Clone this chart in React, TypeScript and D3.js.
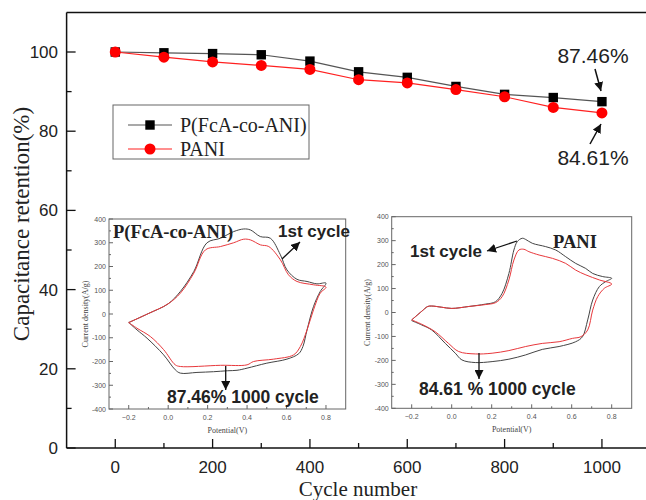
import React from "react";
import * as d3 from "d3";

const cycles = [0, 100, 200, 300, 400, 500, 600, 700, 800, 900, 1000];
const retentionCopolymer = [100, 99.8, 99.6, 99.3, 97.7, 95.0, 93.6, 91.3, 89.3, 88.5, 87.46];
const retentionPANI = [100, 98.7, 97.5, 96.6, 95.6, 93.0, 92.2, 90.5, 88.7, 86.0, 84.61];
const xMajorTicks = [0, 200, 400, 600, 800, 1000];
const xMinorTicks = [100, 300, 500, 700, 900];
const yMajorTicks = [0, 20, 40, 60, 80, 100];
const yMinorTicks = [10, 30, 50, 70, 90];

// CV insets: [potential V, current density A/g]
const cvCopoFirst: [number, number][] = [
  [-0.2, -36], [-0.1, 2], [0.0, 43], [0.062, 95], [0.13, 179], [0.197, 300], [0.265, 319], [0.332, 347],
  [0.383, 358], [0.417, 354], [0.467, 326], [0.518, 319], [0.569, 249], [0.602, 186], [0.653, 146],
  [0.704, 137], [0.754, 127], [0.8, 130], [0.771, 95], [0.737, 32], [0.704, -67], [0.683, -137],
  [0.662, -167], [0.602, -190], [0.5, -207], [0.4, -228], [0.349, -237], [0.3, -239], [0.23, -243],
  [0.146, -246], [0.062, -249], [0.036, -235], [-0.023, -172], [-0.107, -102], [-0.158, -67], [-0.2, -36],
];
const cvCopoLast: [number, number][] = [
  [-0.2, -36], [-0.1, 2], [0.0, 43], [0.062, 88], [0.13, 172], [0.189, 270], [0.265, 284], [0.332, 300],
  [0.383, 315], [0.417, 312], [0.468, 291], [0.51, 284], [0.569, 228], [0.61, 165], [0.653, 137],
  [0.737, 123], [0.8, 113], [0.771, 88], [0.737, 18], [0.704, -67], [0.67, -137], [0.636, -172],
  [0.535, -190], [0.433, -200], [0.4, -214], [0.265, -216], [0.062, -221], [0.036, -214],
  [-0.023, -150], [-0.09, -95], [-0.158, -60], [-0.2, -36],
];
const cvPaniFirst: [number, number][] = [
  [-0.2, -31], [-0.15, 5], [-0.12, 25], [-0.1, 27], [-0.05, 22], [0.0, 17], [0.085, 25], [0.168, 35],
  [0.219, 45], [0.252, 80], [0.286, 163], [0.311, 261], [0.328, 296], [0.353, 310], [0.37, 305],
  [0.403, 289], [0.47, 275], [0.52, 261], [0.57, 233], [0.62, 205], [0.67, 184], [0.705, 163],
  [0.755, 150], [0.8, 143], [0.77, 129], [0.738, 108], [0.705, 52], [0.68, -31], [0.654, -101],
  [0.62, -122], [0.537, -142], [0.453, -154], [0.37, -177], [0.286, -195], [0.202, -205], [0.118, -209],
  [0.051, -198], [0.018, -170], [-0.032, -129], [-0.1, -73], [-0.15, -52], [-0.2, -34],
];
const cvPaniLast: [number, number][] = [
  [-0.2, -31], [-0.15, 5], [-0.12, 25], [-0.1, 27], [-0.05, 22], [0.0, 17], [0.085, 25], [0.168, 33],
  [0.219, 41], [0.252, 66], [0.286, 136], [0.311, 219], [0.336, 261], [0.361, 264], [0.386, 254],
  [0.437, 240], [0.504, 226], [0.57, 205], [0.62, 177], [0.671, 157], [0.738, 136], [0.8, 119],
  [0.763, 101], [0.73, 66], [0.705, 10], [0.68, -73], [0.646, -101], [0.604, -108], [0.537, -122],
  [0.453, -129], [0.37, -142], [0.286, -159], [0.202, -170], [0.118, -173], [0.035, -163],
  [-0.016, -129], [-0.083, -80], [-0.15, -49], [-0.2, -31],
];
const cvXMajor = [-0.2, 0.0, 0.2, 0.4, 0.6, 0.8];
const cvXMinor = [-0.1, 0.1, 0.3, 0.5, 0.7];
const cvYMajor = [-400, -300, -200, -100, 0, 100, 200, 300, 400];
const cvYMinor = [-350, -250, -150, -50, 50, 150, 250, 350];

const W = 646;
const H = 500;
const x = d3.scaleLinear().domain([-100, 1100]).range([66.6, 650.6]);
const y = d3.scaleLinear().domain([0, 110]).range([448, 12.4]);

const serif = "'Liberation Serif', 'Times New Roman', serif";
const sans = "'Liberation Sans', Arial, sans-serif";

function Inset({ x0, x1, y0, y1, first, last, labelX }: any) {
  const sx = d3.scaleLinear().domain([-0.3, 0.9]).range([x0, x1]);
  const sy = d3.scaleLinear().domain([-400, 400]).range([y1, y0]);
  const line = d3
    .line<[number, number]>()
    .x((d) => sx(d[0]))
    .y((d) => sy(d[1]))
    .curve(d3.curveCatmullRom.alpha(0.5));
  const tc = "#666";
  return (
    <g>
      <rect x={x0} y={y0} width={x1 - x0} height={y1 - y0} fill="none" stroke={tc} strokeWidth={1} />
      {cvYMajor.map((v) => (
        <g key={"ym" + v}>
          <line x1={x0} x2={x0 + 4} y1={sy(v)} y2={sy(v)} stroke={tc} />
          <text x={x0 - 3} y={sy(v) + 2.5} fontSize={7} fontFamily={sans} fill="#555" textAnchor="end">
            {v}
          </text>
        </g>
      ))}
      {cvYMinor.map((v) => (
        <line key={"yn" + v} x1={x0} x2={x0 + 2} y1={sy(v)} y2={sy(v)} stroke={tc} />
      ))}
      {cvXMajor.map((v) => (
        <g key={"xm" + v}>
          <line x1={sx(v)} x2={sx(v)} y1={y1} y2={y1 - 4} stroke={tc} />
          <text x={sx(v)} y={y1 + 11} fontSize={7} fontFamily={sans} fill="#555" textAnchor="middle">
            {d3.format(".1f")(v)}
          </text>
        </g>
      ))}
      {cvXMinor.map((v) => (
        <line key={"xn" + v} x1={sx(v)} x2={sx(v)} y1={y1} y2={y1 - 2} stroke={tc} />
      ))}
      <text
        transform={`translate(${labelX},${(y0 + y1) / 2}) rotate(-90)`}
        fontSize={8}
        fontFamily={serif}
        fill="#444"
        textAnchor="middle"
      >
        Current density(A/g)
      </text>
      <text x={(x0 + x1) / 2} y={y1 + 24} fontSize={8} fontFamily={serif} fill="#444" textAnchor="middle">
        Potential(V)
      </text>
      <path d={line(first) || ""} fill="none" stroke="#444" strokeWidth={1} />
      <path d={line(last) || ""} fill="none" stroke="#e8383c" strokeWidth={1} />
    </g>
  );
}

export default function App() {
  const lineCopo = d3
    .line<number>()
    .x((_, i) => x(cycles[i]))
    .y((d) => y(d));
  return (
    <svg width={W} height={H} style={{ position: "absolute", left: 0, top: 0, background: "#fff" }}>
      <defs>
        <marker id="ah" viewBox="0 0 10 10" refX="10" refY="5" markerWidth="9" markerHeight="9" markerUnits="userSpaceOnUse" orient="auto">
          <path d="M0,0 L10,5 L0,10 z" fill="#111" />
        </marker>
      </defs>
      <rect x={0} y={0} width={W} height={H} fill="#fff" />
      {/* frame */}
      <line x1={x(-100)} x2={x(-100)} y1={y(0)} y2={y(110)} stroke="#111" strokeWidth={1.5} />
      <line x1={x(-100)} x2={x(1100)} y1={y(110)} y2={y(110)} stroke="#111" strokeWidth={1.5} />
      <line x1={x(-100)} x2={x(1100)} y1={y(0)} y2={y(0)} stroke="#111" strokeWidth={1.5} />
      {yMajorTicks.map((v) => (
        <g key={"y" + v}>
          <line x1={x(-100)} x2={x(-100) + 9} y1={y(v)} y2={y(v)} stroke="#111" strokeWidth={1.3} />
          <text x={58} y={y(v) + 6} fontSize={17} fontFamily={sans} fill="#222" textAnchor="end">
            {v}
          </text>
        </g>
      ))}
      {yMinorTicks.map((v) => (
        <line key={"yn" + v} x1={x(-100)} x2={x(-100) + 5} y1={y(v)} y2={y(v)} stroke="#111" strokeWidth={1.3} />
      ))}
      {xMajorTicks.map((v) => (
        <g key={"x" + v}>
          <line x1={x(v)} x2={x(v)} y1={y(0)} y2={y(0) - 9} stroke="#111" strokeWidth={1.3} />
          <text x={x(v)} y={473} fontSize={17} fontFamily={sans} fill="#222" textAnchor="middle">
            {v}
          </text>
        </g>
      ))}
      {xMinorTicks.map((v) => (
        <line key={"xn" + v} x1={x(v)} x2={x(v)} y1={y(0)} y2={y(0) - 5} stroke="#111" strokeWidth={1.3} />
      ))}
      <text transform={`translate(29,${224}) rotate(-90)`} fontSize={23} fontFamily={serif} fill="#222" textAnchor="middle">
        Capacitance retention(%)
      </text>
      <text x={358} y={496} fontSize={21} fontFamily={serif} fill="#222" textAnchor="middle">
        Cycle number
      </text>

      {/* series */}
      <path d={lineCopo(retentionCopolymer) || ""} fill="none" stroke="#555" strokeWidth={1.2} />
      <path d={lineCopo(retentionPANI) || ""} fill="none" stroke="#ff2020" strokeWidth={1.2} />
      {retentionCopolymer.map((v, i) => (
        <rect key={"s" + i} x={x(cycles[i]) - 4.7} y={y(v) - 4.7} width={9.4} height={9.4} fill="#000" />
      ))}
      {retentionPANI.map((v, i) => (
        <circle key={"c" + i} cx={x(cycles[i])} cy={y(v)} r={5.5} fill="#ff0000" />
      ))}

      {/* legend */}
      <rect x={113} y={105} width={196} height={54} fill="#fff" stroke="#666" strokeWidth={1} />
      <line x1={128} x2={172} y1={125} y2={125} stroke="#555" strokeWidth={1.2} />
      <rect x={150 - 4.7} y={125 - 4.7} width={9.4} height={9.4} fill="#000" />
      <text x={180} y={132} fontSize={20} fontFamily={serif} fill="#222">
        P(FcA-co-ANI)
      </text>
      <line x1={128} x2={172} y1={149} y2={149} stroke="#ff2020" strokeWidth={1.2} />
      <circle cx={150} cy={149} r={5.5} fill="#ff0000" />
      <text x={180} y={156} fontSize={20} fontFamily={serif} fill="#222">
        PANI
      </text>

      {/* end annotations */}
      <text x={593} y={63} fontSize={21} fontFamily={sans} fill="#222" textAnchor="middle">
        87.46%
      </text>
      <line x1={595} y1={69} x2={601} y2={91} stroke="#111" strokeWidth={1.5} markerEnd="url(#ah)" />
      <text x={593} y={165} fontSize={21} fontFamily={sans} fill="#222" textAnchor="middle">
        84.61%
      </text>
      <line x1={590} y1={144} x2={601} y2={124} stroke="#111" strokeWidth={1.5} markerEnd="url(#ah)" />

      {/* insets */}
      <Inset x0={109} x1={345.7} y0={219} y1={409} first={cvCopoFirst} last={cvCopoLast} labelX={88} />
      <Inset x0={391.7} x1={631.7} y0={216.7} y1={408.3} first={cvPaniFirst} last={cvPaniLast} labelX={370} />

      <text x={113} y={238} fontSize={18.5} fontWeight="bold" fontFamily={serif} fill="#222">
        P(FcA-co-ANI)
      </text>
      <text x={278} y={237} fontSize={17} fontWeight="bold" fontFamily={sans} fill="#222">
        1st cycle
      </text>
      <line x1={282} y1={259} x2={300} y2={242} stroke="#111" strokeWidth={1.3} markerEnd="url(#ah)" />
      <text x={167} y={403} fontSize={17.5} fontWeight="bold" fontFamily={sans} fill="#222">
        87.46% 1000 cycle
      </text>
      <line x1={225.7} y1={366} x2={225.7} y2={390} stroke="#111" strokeWidth={1.3} markerEnd="url(#ah)" />

      <text x={553} y={248} fontSize={18.5} fontWeight="bold" fontFamily={serif} fill="#222">
        PANI
      </text>
      <text x={410} y={257} fontSize={17} fontWeight="bold" fontFamily={sans} fill="#222">
        1st cycle
      </text>
      <line x1={517} y1={241} x2={487} y2={251} stroke="#111" strokeWidth={1.3} markerEnd="url(#ah)" />
      <text x={419} y={395} fontSize={17.5} fontWeight="bold" fontFamily={sans} fill="#222">
        84.61 % 1000 cycle
      </text>
      <line x1={479} y1={353} x2={479} y2={379} stroke="#111" strokeWidth={1.3} markerEnd="url(#ah)" />
    </svg>
  );
}
